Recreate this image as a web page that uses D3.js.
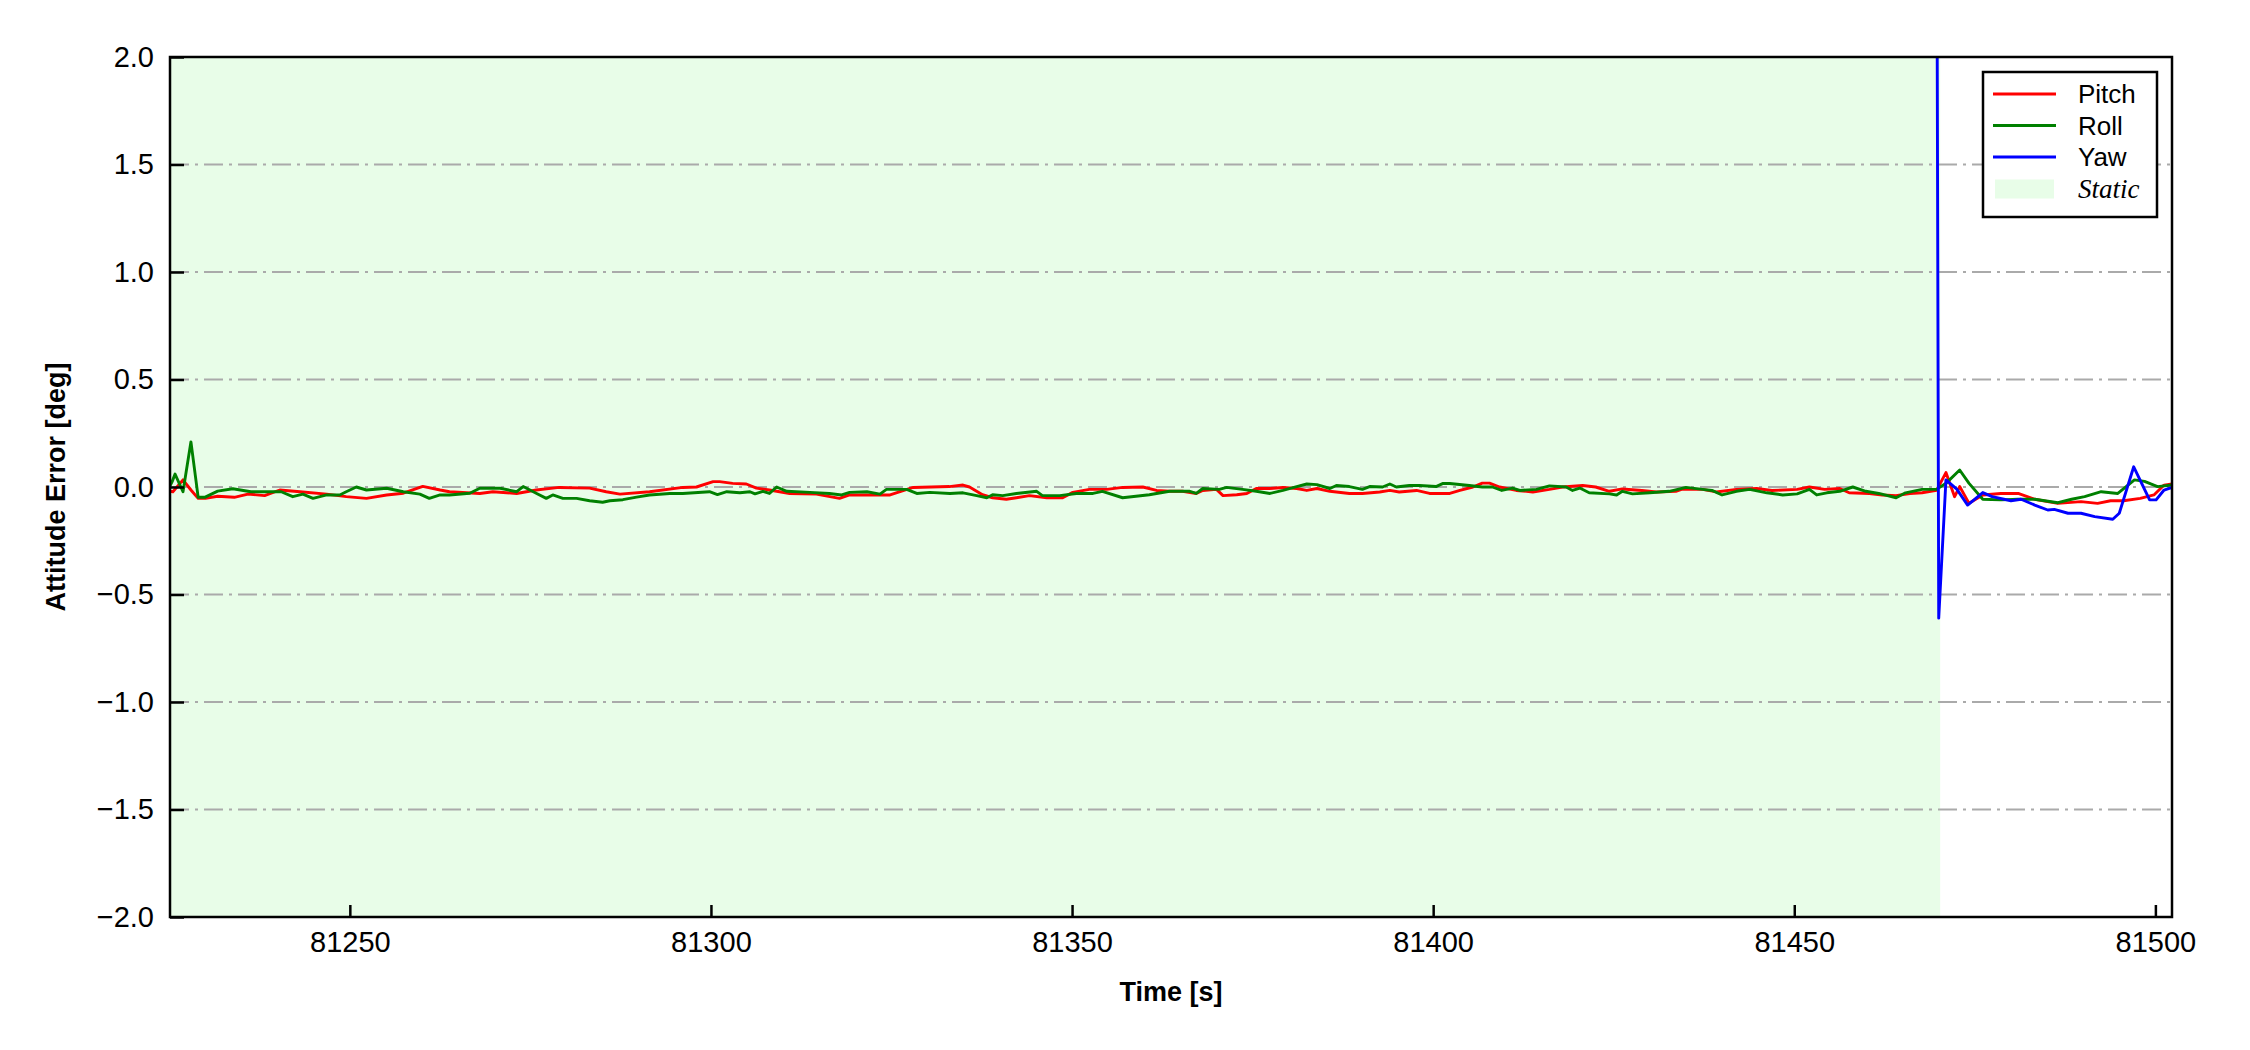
<!DOCTYPE html>
<html>
<head>
<meta charset="utf-8">
<script src="https://cdn.jsdelivr.net/npm/d3@7"></script>
<style>
  html, body { margin: 0; padding: 0; background: #fff; }
  svg { display: block; }
</style>
</head>
<body>
<svg id="chart" width="2250" height="1050"></svg>
<script>
// ---------------- data ----------------
const pitchTime = [81225.1,81225.5,81226.9,81228,81229,81230,81231.7,81234,81235.9,81238.2,81240.3,81243.1,81246.8,81249.5,81252.3,81255.1,81257.4,81260.1,81262.5,81263.8,81268,81269.8,81273.1,81275.8,81279,81283.2,81285.5,81287.4,81291.5,81296.1,81298,81300.3,81301.2,81303,81304.9,81306.3,81308.1,81310.9,81314.6,81317.8,81319.2,81322,81324.8,81328,81333,81334.9,81335.8,81337.6,81339,81340.9,81342.3,81344.1,81346.5,81348.7,81350.1,81352.4,81354.8,81357,81359.8,81361.7,81363.5,81365.3,81367.2,81368.1,81370,81370.9,81372.8,81374.2,81375.5,81377.4,81379.2,81381.1,81382.5,81383.9,81385.7,81388.4,81390.2,81392.6,81394,81395.3,81397.7,81399.5,81402.3,81403.7,81405.5,81406.8,81407.8,81409.2,81411.5,81413.8,81416.1,81417.9,81420.7,81422.5,81424.4,81426.2,81428.9,81430.9,81433.6,81434.5,81437.3,81439.2,81442,81444.8,81446.9,81450.4,81452.1,81454.2,81456.3,81457.6,81460.4,81462.2,81464.1,81466,81467.7,81469.7,81471,81472.2,81472.9,81474.2,81476.1,81478.6,81481,81483.3,81486.5,81489.7,81492,81493.8,81495.6,81497.9,81499.8,81501.2,81502.3];
const pitchErr = [-0.02,-0.022,0.033,-0.014,-0.053,-0.053,-0.043,-0.048,-0.033,-0.040,-0.014,-0.022,-0.033,-0.045,-0.053,-0.037,-0.029,0.003,-0.014,-0.022,-0.030,-0.022,-0.030,-0.014,-0.002,-0.005,-0.022,-0.033,-0.022,-0.002,0.000,0.025,0.025,0.017,0.014,-0.005,-0.014,-0.030,-0.033,-0.053,-0.037,-0.037,-0.037,-0.002,0.002,0.009,0.000,-0.036,-0.050,-0.057,-0.050,-0.040,-0.050,-0.050,-0.025,-0.011,-0.011,-0.002,0.000,-0.016,-0.020,-0.020,-0.030,-0.016,-0.011,-0.040,-0.036,-0.030,-0.007,-0.007,-0.002,-0.007,-0.016,-0.007,-0.020,-0.030,-0.030,-0.023,-0.016,-0.023,-0.016,-0.030,-0.030,-0.016,0.000,0.018,0.018,0.000,-0.016,-0.023,-0.011,0.000,0.007,0.000,-0.020,-0.009,-0.016,-0.023,-0.020,-0.010,-0.011,-0.023,-0.011,-0.007,-0.016,-0.011,0.000,-0.011,-0.007,-0.027,-0.030,-0.037,-0.040,-0.030,-0.027,-0.016,0.067,-0.045,0.002,-0.076,-0.037,-0.030,-0.030,-0.057,-0.076,-0.068,-0.076,-0.064,-0.064,-0.053,-0.037,0.009,0.014];

const rollTime = [81225.1,81225.4,81225.8,81226.9,81228,81229,81229.9,81231.7,81233.8,81236.3,81238.6,81240.5,81242.1,81243.5,81244.9,81246.8,81248.6,81249.5,81250.9,81252.3,81255.1,81257.4,81259.7,81261,81262.5,81263.8,81266.6,81268,81270.8,81273.1,81274,81275.8,81277.2,81278.1,81279.5,81281.4,81283.2,81285,81286,81287.8,81289.7,81291.5,81294.3,81296.1,81299.8,81300.9,81302.2,81304,81305.4,81306.1,81307.2,81308.1,81309.1,81310.5,81313.7,81316.4,81318.1,81319.2,81321.6,81323.4,81324.3,81327.1,81328.5,81330.3,81333.1,81334.9,81336.8,81338.2,81339,81340.4,81342.3,81345.1,81345.9,81348.3,81350.6,81352.9,81354.2,81357,81360.7,81363.5,81366.3,81367.2,81368.1,81370.4,81371.4,81373.6,81375.5,81377.4,81379.2,81381.1,81382.5,81383.9,81385.7,81386.6,81388.4,81390.2,81391.2,81393,81394,81394.9,81396.7,81398.1,81400.4,81401.3,81402.3,81405,81406.8,81408.2,81409.5,81411,81412,81414.3,81416.1,81418.4,81419.3,81420.3,81421.6,81424.4,81425.4,81426.2,81427.6,81430,81432.7,81435,81437.3,81438.6,81440,81442,81443.8,81446.2,81448.4,81450.4,81452.1,81453.1,81454.5,81456.3,81458.1,81459.9,81461.7,81464.1,81465.4,81467.7,81469.7,81471,81472.9,81474.2,81476.1,81478.6,81481,81483.3,81486.5,81488.4,81490.2,81492.5,81494.8,81497.1,81498.5,81500.3,81502.3];
const rollErr = [0.005,0.025,0.060,-0.022,0.210,-0.048,-0.048,-0.019,-0.008,-0.022,-0.022,-0.022,-0.045,-0.033,-0.053,-0.037,-0.037,-0.022,0.000,-0.014,-0.006,-0.022,-0.033,-0.053,-0.037,-0.037,-0.029,-0.006,-0.006,-0.022,0.002,-0.029,-0.053,-0.037,-0.053,-0.053,-0.064,-0.071,-0.064,-0.059,-0.047,-0.037,-0.030,-0.030,-0.022,-0.035,-0.022,-0.027,-0.022,-0.032,-0.020,-0.030,0.000,-0.020,-0.025,-0.030,-0.037,-0.025,-0.022,-0.033,-0.011,-0.011,-0.030,-0.025,-0.030,-0.027,-0.040,-0.050,-0.036,-0.040,-0.030,-0.020,-0.040,-0.040,-0.030,-0.030,-0.020,-0.050,-0.036,-0.020,-0.020,-0.030,-0.007,-0.011,-0.002,-0.011,-0.020,-0.030,-0.016,0.002,0.014,0.011,-0.007,0.007,0.002,-0.011,0.002,0.000,0.014,0.000,0.007,0.007,0.002,0.016,0.016,0.007,0.000,0.000,-0.016,-0.005,-0.016,-0.011,0.005,0.000,-0.016,-0.005,-0.027,-0.032,-0.037,-0.020,-0.032,-0.027,-0.020,-0.002,-0.011,-0.016,-0.037,-0.020,-0.011,-0.027,-0.037,-0.032,-0.011,-0.037,-0.027,-0.020,0.000,-0.020,-0.030,-0.050,-0.027,-0.011,-0.011,0.017,0.079,0.017,-0.057,-0.060,-0.057,-0.057,-0.073,-0.057,-0.045,-0.022,-0.030,0.033,0.026,0.002,0.009];

const yawTime = [81469,81470,81471,81472.5,81474,81476.1,81477.4,81480,81481.4,81483.3,81485.1,81486,81487.9,81489.7,81491.6,81494.1,81495,81497,81499.2,81500.1,81501.2,81502.3];
const yawErr  = [12,-0.61,0.033,-0.010,-0.084,-0.026,-0.045,-0.064,-0.057,-0.084,-0.107,-0.104,-0.122,-0.122,-0.138,-0.150,-0.122,0.094,-0.060,-0.060,-0.014,-0.002];

const staticPeriod = [81225.1, 81470.2];
const xDomain = [81225.1, 81502.3];
const yDomain = [-2.0, 2.0];
const xTicks = [81250, 81300, 81350, 81400, 81450, 81500];
const yTicks = [-2.0, -1.5, -1.0, -0.5, 0.0, 0.5, 1.0, 1.5, 2.0];
const seriesNames = ["Pitch", "Roll", "Yaw"];
const seriesColors = ["#ff0000", "#008000", "#0000ff"];

// ---------------- layout ----------------
const margin = { left: 170, right: 78, top: 57, bottom: 133 };
const W = 2250, H = 1050;
const iw = W - margin.left - margin.right;
const ih = H - margin.top - margin.bottom;

const svg = d3.select("#chart");
const g = svg.append("g").attr("transform", `translate(${margin.left},${margin.top})`);

const x = d3.scaleLinear().domain(xDomain).range([0, iw]);
const y = d3.scaleLinear().domain(yDomain).range([ih, 0]);

svg.append("defs").append("clipPath").attr("id", "clip")
  .append("rect").attr("x", 0).attr("y", 0).attr("width", iw).attr("height", ih);

// static shading
g.append("rect")
  .attr("x", x(staticPeriod[0]))
  .attr("y", 0)
  .attr("width", x(staticPeriod[1]) - x(staticPeriod[0]))
  .attr("height", ih)
  .attr("fill", "#e8fde8");

// grid
g.append("g").selectAll("line").data(yTicks.filter(d => d > yDomain[0] && d < yDomain[1])).join("line")
  .attr("x1", 0).attr("x2", iw)
  .attr("y1", d => y(d)).attr("y2", d => y(d))
  .attr("stroke", "#aaaaaa").attr("stroke-width", 2)
  .attr("stroke-dasharray", "19,6,3,6");

// lines
const series = [
  { t: pitchTime, v: pitchErr },
  { t: rollTime, v: rollErr },
  { t: yawTime, v: yawErr }
];
const line = d3.line().x(d => x(d[0])).y(d => y(d[1]));
const lines = g.append("g").attr("clip-path", "url(#clip)");
series.forEach((s, i) => {
  const pts = s.t.map((t, k) => [t, s.v[k]]);
  lines.append("path").datum(pts)
    .attr("d", line)
    .attr("fill", "none")
    .attr("stroke", seriesColors[i])
    .attr("stroke-width", 2.9)
    .attr("stroke-linejoin", "round");
});

// axes
const fontTick = "Liberation Sans, Arial, Helvetica, sans-serif";
const xAxis = d3.axisBottom(x).tickValues(xTicks).tickSizeInner(-12).tickSizeOuter(0).tickPadding(14).tickFormat(d3.format("d"));
const yAxis = d3.axisLeft(y).tickValues(yTicks).tickSizeInner(-14).tickSizeOuter(0).tickPadding(16)
  .tickFormat(d => (d < 0 ? "\u2212" : "") + Math.abs(d).toFixed(1));

const gx = g.append("g").attr("transform", `translate(0,${ih})`).call(xAxis);
const gy = g.append("g").call(yAxis);
[gx, gy].forEach(a => {
  a.select(".domain").remove();
  a.selectAll(".tick line").attr("stroke", "#000").attr("stroke-width", 2.5);
  a.selectAll(".tick text").attr("fill", "#000").attr("font-family", fontTick).attr("font-size", 29);
});

// frame
g.append("rect").attr("x", 0).attr("y", 0).attr("width", iw).attr("height", ih)
  .attr("fill", "none").attr("stroke", "#000").attr("stroke-width", 2.5);

// axis labels
svg.append("text")
  .attr("x", margin.left + iw / 2).attr("y", 1001)
  .attr("text-anchor", "middle")
  .attr("font-family", fontTick).attr("font-weight", "bold").attr("font-size", 27)
  .text("Time [s]");
svg.append("text")
  .attr("transform", `translate(65,${margin.top + ih / 2}) rotate(-90)`)
  .attr("text-anchor", "middle")
  .attr("font-family", fontTick).attr("font-weight", "bold").attr("font-size", 27)
  .text("Attitude Error [deg]");

// legend
const lg = svg.append("g").attr("transform", "translate(1983,72)");
lg.append("rect").attr("x", 0).attr("y", 0).attr("width", 174).attr("height", 145)
  .attr("fill", "#fff").attr("stroke", "#000").attr("stroke-width", 2.5);
const legendItems = seriesNames.map((n, i) => ({ name: n, color: seriesColors[i], type: "line" }))
  .concat([{ name: "Static", color: "#e8fde8", type: "patch" }]);
legendItems.forEach((it, i) => {
  const cy = 22 + i * 31.5;
  if (it.type === "line") {
    lg.append("line").attr("x1", 10).attr("x2", 73).attr("y1", cy).attr("y2", cy)
      .attr("stroke", it.color).attr("stroke-width", 3);
  } else {
    lg.append("rect").attr("x", 12).attr("y", cy - 9).attr("width", 59).attr("height", 19)
      .attr("fill", it.color);
  }
  lg.append("text").attr("x", 95).attr("y", cy + 9)
    .attr("font-family", it.type === "patch" ? "Liberation Serif, Times New Roman, serif" : fontTick)
    .attr("font-style", it.type === "patch" ? "italic" : "normal")
    .attr("font-size", it.type === "patch" ? 27 : 26)
    .attr("fill", "#000")
    .text(it.name);
});
</script>
</body>
</html>
